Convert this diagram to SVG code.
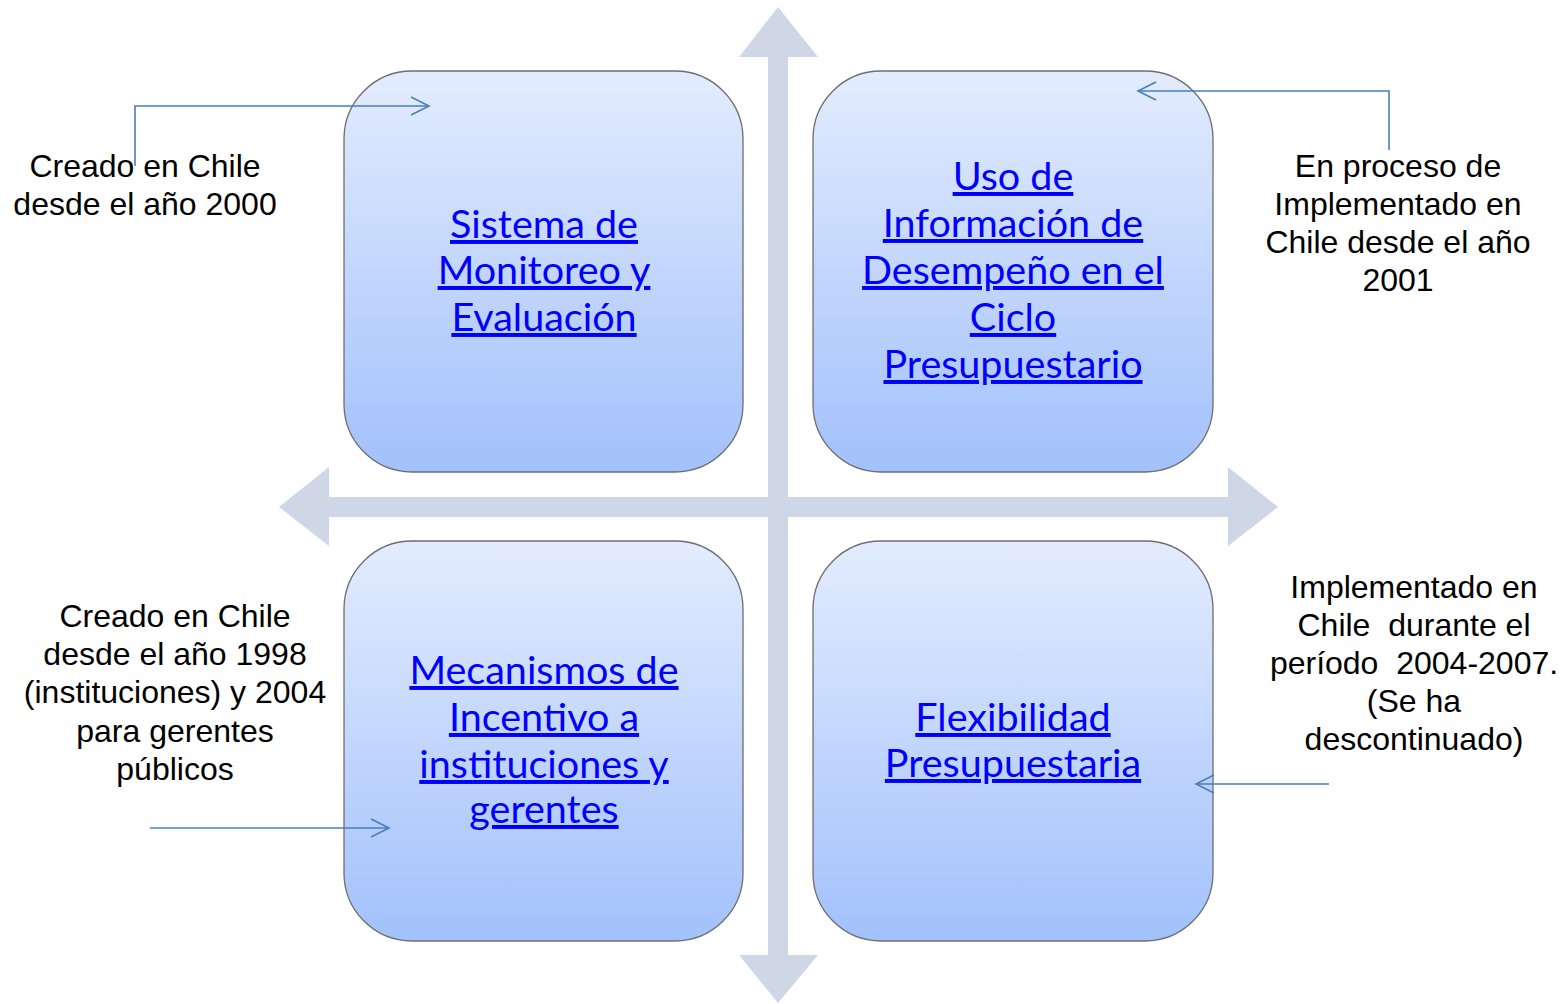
<svg xmlns="http://www.w3.org/2000/svg" width="1567" height="1004" viewBox="0 0 1567 1004">
<defs>
<linearGradient id="boxg" x1="0" y1="0" x2="0" y2="1">
<stop offset="0" stop-color="#E3ECFE"/>
<stop offset="1" stop-color="#A2C1FB"/>
</linearGradient>
<marker id="open" markerUnits="userSpaceOnUse" markerWidth="24" markerHeight="24" refX="19" refY="10" orient="auto">
<path d="M1,1 L19,10 L1,19" fill="none" stroke="#4A7EBB" stroke-width="1.6"/>
</marker>
<style>
.box{fill:url(#boxg);stroke:#6E6E6E;stroke-width:1.3}
.bt{font-family:Lato,"Open Sans",sans-serif;font-size:39.5px;fill:#0000FF;text-decoration:underline;text-anchor:middle}
.lb{font-family:"Liberation Sans",Arial,sans-serif;font-size:32px;fill:#000;text-anchor:middle}
.cn{fill:none;stroke:#4A7EBB;stroke-width:1.6}
.ax{fill:#CFD6E6}
</style>
</defs>
<rect width="1567" height="1004" fill="#fff"/>
<g id="axes">
<polygon class="ax" points="778,7 818,57 788,57 788,497 1228,497 1228,467 1278,507 1228,546 1228,517 788,517 788,955 818,955 778,1003 739,955 768,955 768,517 329,517 329,546 279,507 329,467 329,497 768,497 768,57 739,57"/>
</g>
<g id="node-sme">
<rect class="box" x="344" y="71" width="399" height="401" rx="68" ry="68"/>
<text class="bt" x="544" y="238">Sistema de</text>
<text class="bt" x="544" y="284">Monitoreo y</text>
<text class="bt" x="544" y="331">Evaluación</text>
</g>
<g id="node-uso">
<rect class="box" x="813" y="71" width="400" height="401" rx="68" ry="68"/>
<text class="bt" x="1013" y="190">Uso de</text>
<text class="bt" x="1013" y="237">Información de</text>
<text class="bt" x="1013" y="284">Desempeño en el</text>
<text class="bt" x="1013" y="331">Ciclo</text>
<text class="bt" x="1013" y="378">Presupuestario</text>
</g>
<g id="node-mec">
<rect class="box" x="344" y="541" width="399" height="400" rx="68" ry="68"/>
<text class="bt" x="544" y="684">Mecanismos de</text>
<text class="bt" x="544" y="731">Incentivo a</text>
<text class="bt" x="544" y="778">instituciones y</text>
<text class="bt" x="544" y="823">gerentes</text>
</g>
<g id="node-flex">
<rect class="box" x="813" y="541" width="400" height="400" rx="68" ry="68"/>
<text class="bt" x="1013" y="731">Flexibilidad</text>
<text class="bt" x="1013" y="777">Presupuestaria</text>
</g>
<g id="label-tl">
<text class="lb" x="145" y="177">Creado en Chile</text>
<text class="lb" x="145" y="215">desde el año 2000</text>
</g>
<g id="label-tr">
<text class="lb" x="1398" y="177">En proceso de</text>
<text class="lb" x="1398" y="215">Implementado en</text>
<text class="lb" x="1398" y="253">Chile desde el año</text>
<text class="lb" x="1398" y="291">2001</text>
</g>
<g id="label-bl">
<text class="lb" x="175" y="627">Creado en Chile</text>
<text class="lb" x="175" y="665">desde el año 1998</text>
<text class="lb" x="175" y="703">(instituciones) y 2004</text>
<text class="lb" x="175" y="742">para gerentes</text>
<text class="lb" x="175" y="780">públicos</text>
</g>
<g id="label-br">
<text class="lb" x="1414" y="598">Implementado en</text>
<text class="lb" x="1414" y="636" xml:space="preserve">Chile  durante el</text>
<text class="lb" x="1414" y="674" xml:space="preserve">período  2004-2007.</text>
<text class="lb" x="1414" y="712">(Se ha</text>
<text class="lb" x="1414" y="750">descontinuado)</text>
</g>
<g id="connectors">
<path class="cn" d="M135,166 L135,106 L429,106" marker-end="url(#open)"/>
<path class="cn" d="M1389,150 L1389,91 L1138,91" marker-end="url(#open)"/>
<path class="cn" d="M150,828 L389,828" marker-end="url(#open)"/>
<path class="cn" d="M1329,784 L1196,784" marker-end="url(#open)"/>
</g>
</svg>
